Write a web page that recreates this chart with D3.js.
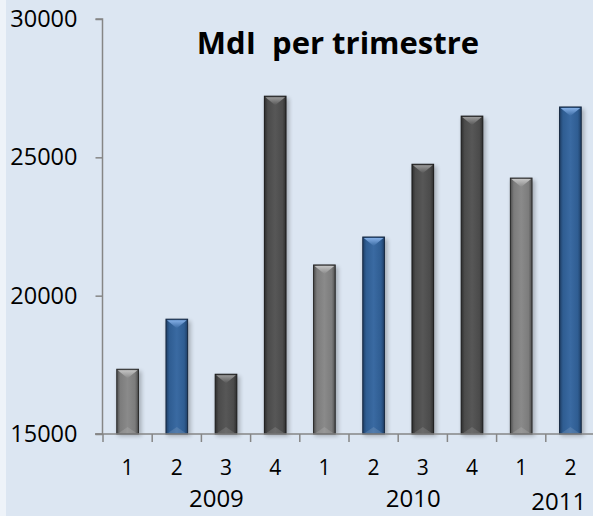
<!DOCTYPE html>
<html>
<head>
<meta charset="utf-8">
<script src="https://cdn.jsdelivr.net/npm/d3@7"></script>
<style>
  body { margin: 0; background: #dce6f2; }
  svg { display: block; }
  text { font-family: "Open Sans", "Liberation Sans", sans-serif; fill: #000; }
</style>
</head>
<body>
<div id="chart"></div>
<script>
// data
var quarters = ["1", "2", "3", "4", "1", "2", "3", "4", "1", "2"];
var values = [17340, 19150, 17160, 27210, 21110, 22120, 24750, 26490, 24250, 26820];
var years = ["2009", "2010", "2011"];
var yearStart = [0, 4, 8];
var yearEnd = [4, 8, 10];
var yTicks = [15000, 20000, 25000, 30000];

var W = 593, H = 516;

// bar look, by index
var barStyle = ["grey", "blue", "dark", "dark", "grey", "blue", "dark", "dark", "grey", "blue"];
var palette = {
  grey: { edge: "#4e4e4e", base: "#7c7c7c", mid: "#8a8a8a", cap: "#c4c4c4", stroke: "#262626" },
  blue: { edge: "#1f3f66", base: "#2f5d92", mid: "#3a6aa2", cap: "#84afe6", stroke: "#14263f" },
  dark: { edge: "#2e2e2e", base: "#4b4b4b", mid: "#575757", cap: "#9a9a9a", stroke: "#1a1a1a" }
};

var svg = d3.select("#chart").append("svg")
  .attr("width", W).attr("height", H);

svg.append("rect").attr("width", W).attr("height", H).attr("fill", "#dce6f2");
svg.append("rect").attr("width", 6).attr("height", H).attr("fill", "#eef3f9");

var defs = svg.append("defs");
Object.keys(palette).forEach(function(k) {
  var p = palette[k];
  var g = defs.append("linearGradient").attr("id", "body-" + k)
    .attr("x1", 0).attr("x2", 1).attr("y1", 0).attr("y2", 0);
  g.append("stop").attr("offset", "0%").attr("stop-color", p.edge);
  g.append("stop").attr("offset", "16%").attr("stop-color", p.base);
  g.append("stop").attr("offset", "50%").attr("stop-color", p.mid);
  g.append("stop").attr("offset", "84%").attr("stop-color", p.base);
  g.append("stop").attr("offset", "100%").attr("stop-color", p.edge);
  var c = defs.append("linearGradient").attr("id", "cap-" + k)
    .attr("x1", 0).attr("x2", 0).attr("y1", 0).attr("y2", 1);
  c.append("stop").attr("offset", "0%").attr("stop-color", p.cap);
  c.append("stop").attr("offset", "100%").attr("stop-color", p.mid);
});
var blur = defs.append("filter").attr("id", "shadow")
  .attr("x", "-50%").attr("y", "-10%").attr("width", "200%").attr("height", "130%");
blur.append("feGaussianBlur").attr("stdDeviation", 2);

var x = d3.scaleBand()
  .domain(d3.range(values.length))
  .range([103, 595]);
var y = d3.scaleLinear()
  .domain([15000, 30000])
  .range([434, 19]);

var step = x.bandwidth();
var barW = step * 0.44;
var capH = 8;

// title
svg.append("text")
  .attr("x", 338)
  .attr("y", 54)
  .attr("text-anchor", "middle")
  .style("white-space", "pre")
  .style("font-weight", "bold")
  .style("font-size", "31px")
  .text("MdI  per trimestre");

// bars
var bars = svg.append("g").selectAll("g")
  .data(values)
  .enter()
  .append("g")
  .attr("transform", function(d, i) {
    return "translate(" + (x(i) + (step - barW) / 2) + ",0)";
  });

bars.append("rect")
  .attr("x", 1)
  .attr("y", function(d) { return y(d) + 2; })
  .attr("width", barW + 2)
  .attr("height", function(d) { return y(15000) - y(d); })
  .attr("fill", "#000")
  .attr("opacity", 0.25)
  .attr("filter", "url(#shadow)");

bars.append("rect")
  .attr("x", 0)
  .attr("y", function(d) { return y(d); })
  .attr("width", barW)
  .attr("height", function(d) { return y(15000) - y(d); })
  .attr("fill", function(d, i) { return "url(#body-" + barStyle[i] + ")"; })
  .attr("stroke", function(d, i) { return palette[barStyle[i]].stroke; })
  .attr("stroke-width", 1);

bars.append("path")
  .attr("d", function(d) {
    var t = y(d) + 1;
    return "M1," + t + "L" + (barW - 1) + "," + t + "L" + (barW / 2) + "," + (t + capH) + "Z";
  })
  .attr("fill", function(d, i) { return "url(#cap-" + barStyle[i] + ")"; });

bars.append("path")
  .attr("d", function(d) {
    var b = y(15000) - 1;
    return "M2," + b + "L" + (barW - 2) + "," + b + "L" + (barW / 2) + "," + (b - 6) + "Z";
  })
  .attr("fill", "#fff")
  .attr("opacity", 0.12);

// y axis
var yAxis = svg.append("g")
  .attr("transform", "translate(102.5,0)")
  .call(d3.axisLeft(y).tickValues(yTicks).tickSize(7).tickPadding(18).tickFormat(d3.format("d")));
yAxis.select(".domain").attr("stroke", "#868686").attr("stroke-width", 1.5)
  .attr("d", "M-7," + y(30000) + "H0V" + y(15000) + "H-7");
yAxis.selectAll(".tick line").attr("stroke", "#868686").attr("stroke-width", 1.5);
yAxis.selectAll(".tick text").style("font-size", "23.5px").attr("fill", "#000");

// x axis
var xAxis = svg.append("g");
xAxis.append("line")
  .attr("x1", 95).attr("x2", W)
  .attr("y1", y(15000)).attr("y2", y(15000))
  .attr("stroke", "#868686").attr("stroke-width", 1.5);
xAxis.selectAll(".xt")
  .data(d3.range(values.length + 1))
  .enter()
  .append("line")
  .attr("class", "xt")
  .attr("x1", function(i) { return x.range()[0] + i * step; })
  .attr("x2", function(i) { return x.range()[0] + i * step; })
  .attr("y1", y(15000))
  .attr("y2", y(15000) + 8)
  .attr("stroke", "#868686").attr("stroke-width", 1.5);

xAxis.selectAll(".ql")
  .data(quarters)
  .enter()
  .append("text")
  .attr("class", "ql")
  .attr("x", function(d, i) { return x(i) + step / 2; })
  .attr("y", 475)
  .attr("text-anchor", "middle")
  .style("font-size", "21px")
  .text(function(d) { return d; });

xAxis.selectAll(".yl")
  .data(years)
  .enter()
  .append("text")
  .attr("class", "yl")
  .attr("x", function(d, i) { return (x(yearStart[i]) + x.range()[0] + yearEnd[i] * step) / 2 + (i === 2 ? 13 : 15); })
  .attr("y", function(d, i) { return i === 2 ? 510 : 507; })
  .attr("text-anchor", "middle")
  .style("font-size", "24px")
  .text(function(d) { return d; });
</script>
</body>
</html>
